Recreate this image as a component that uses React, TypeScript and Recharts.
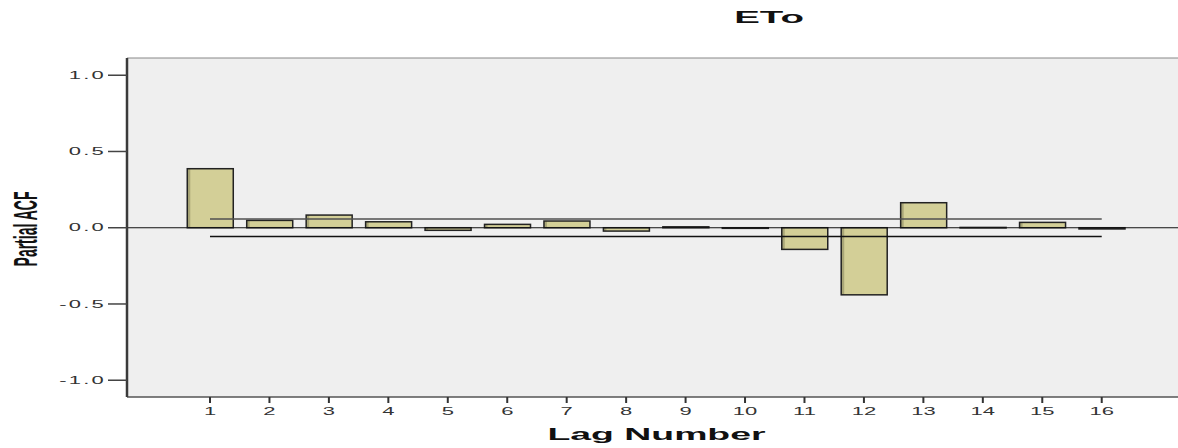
import { BarChart, Bar, XAxis, YAxis, CartesianGrid, ReferenceLine } from 'recharts'

const lags = [1, 2, 3, 4, 5, 6, 7, 8, 9, 10, 11, 12, 13, 14, 15, 16]
const pacf = [0.387, 0.048, 0.083, 0.039, -0.017, 0.022, 0.044, -0.022, 0.006, -0.004, -0.142, -0.44, 0.164, 0.002, 0.035, -0.008]
const yTicks = [-1, -0.5, 0, 0.5, 1]
const confLimit = 0.057

const data = lags.map((lag, i) => ({ lag, value: pacf[i] }))

const FONT = '"Liberation Sans", Arial, sans-serif'
const Y_MIN = -1.11
const Y_MAX = 1.113
const X_MIN = -0.396
const X_MAX = 17.283

const BarShape = (props: any) => {
    const { x, y, width, height } = props
    const top = Math.min(y, y + height)
    const h = Math.max(Math.abs(height), 0.5)
    return (
        <g>
            <rect x={x} y={top} width={width} height={h} fill="#d3cf97" />
            <rect x={x} y={top} width={Math.min(3, width)} height={h} fill="#8e8a62" opacity={0.6} />
            <rect x={x} y={top} width={width} height={h} fill="none" stroke="#222" strokeWidth={1.5} />
        </g>
    )
}

const YTick = ({ x, y, payload }: any) => (
    <g transform={`translate(${x},${y}) scale(2.2,1)`}>
        <text x={0} y={0} dy="0.36em" textAnchor="end" fontFamily={FONT} fontSize={10} fill="#333" letterSpacing={1}>
            {payload.value.toFixed(1)}
        </text>
    </g>
)

const XTick = ({ x, y, payload }: any) => (
    <g transform={`translate(${x},${y}) scale(2,1)`}>
        <text x={0} y={10} textAnchor="middle" fontFamily={FONT} fontSize={11} fill="#333">
            {payload.value}
        </text>
    </g>
)

export default function App() {
    return (
        <div style={{ position: 'absolute', left: 0, top: 0, width: 1178, height: 448, background: '#fff' }}>
            <div
                style={{
                    position: 'absolute',
                    left: 769,
                    top: 9,
                    transform: 'translateX(-50%) scaleX(2.4)',
                    fontFamily: FONT,
                    fontWeight: 'bold',
                    fontSize: 16,
                    color: '#111',
                    whiteSpace: 'nowrap',
                }}
            >
                ETo
            </div>
            <BarChart
                width={1178}
                height={448}
                data={data}
                margin={{ top: 58, right: 0, bottom: 0, left: 0 }}
                barSize={46}
            >
                <CartesianGrid fill="#efefef" horizontal={false} vertical={false} />
                <XAxis
                    dataKey="lag"
                    type="number"
                    domain={[X_MIN, X_MAX]}
                    ticks={lags}
                    allowDataOverflow
                    height={51}
                    axisLine={{ stroke: '#555', strokeWidth: 1.5 }}
                    tickLine={{ stroke: '#333', strokeWidth: 2 }}
                    tickSize={6}
                    tickMargin={2}
                    tick={<XTick />}
                    label={{
                        content: ({ viewBox }: any) => (
                            <g transform={`translate(${viewBox.x + viewBox.width / 2 + 4},${viewBox.y + 43}) scale(2.2,1)`}>
                                <text x={0} y={0} textAnchor="middle" fontFamily={FONT} fontWeight="bold" fontSize={17} fill="#111">
                                    Lag Number
                                </text>
                            </g>
                        ),
                    }}
                />
                <YAxis
                    type="number"
                    domain={[Y_MIN, Y_MAX]}
                    ticks={yTicks}
                    allowDataOverflow
                    width={127}
                    axisLine={{ stroke: '#3a3a3a', strokeWidth: 2.5 }}
                    tickLine={{ stroke: '#444', strokeWidth: 1.5 }}
                    tickSize={19}
                    tickMargin={2}
                    tick={<YTick />}
                    label={{
                        content: () => (
                            <g transform="translate(25,229) rotate(-90) scale(1,2.4)">
                                <text x={0} y={0} dy="0.36em" textAnchor="middle" fontFamily={FONT} fontWeight="bold" fontSize={14} fill="#111">
                                    Partial ACF
                                </text>
                            </g>
                        ),
                    }}
                />
                <ReferenceLine y={Y_MAX} stroke="#888" strokeWidth={1} />
                <ReferenceLine y={0} stroke="#111" strokeWidth={1.2} />
                <ReferenceLine segment={[{ x: 1, y: confLimit }, { x: 16, y: confLimit }]} stroke="#505050" strokeWidth={1.5} />
                <ReferenceLine segment={[{ x: 1, y: -confLimit }, { x: 16, y: -confLimit }]} stroke="#111" strokeWidth={1.5} />
                <Bar dataKey="value" shape={<BarShape />} isAnimationActive={false} />
            </BarChart>
        </div>
    )
}
